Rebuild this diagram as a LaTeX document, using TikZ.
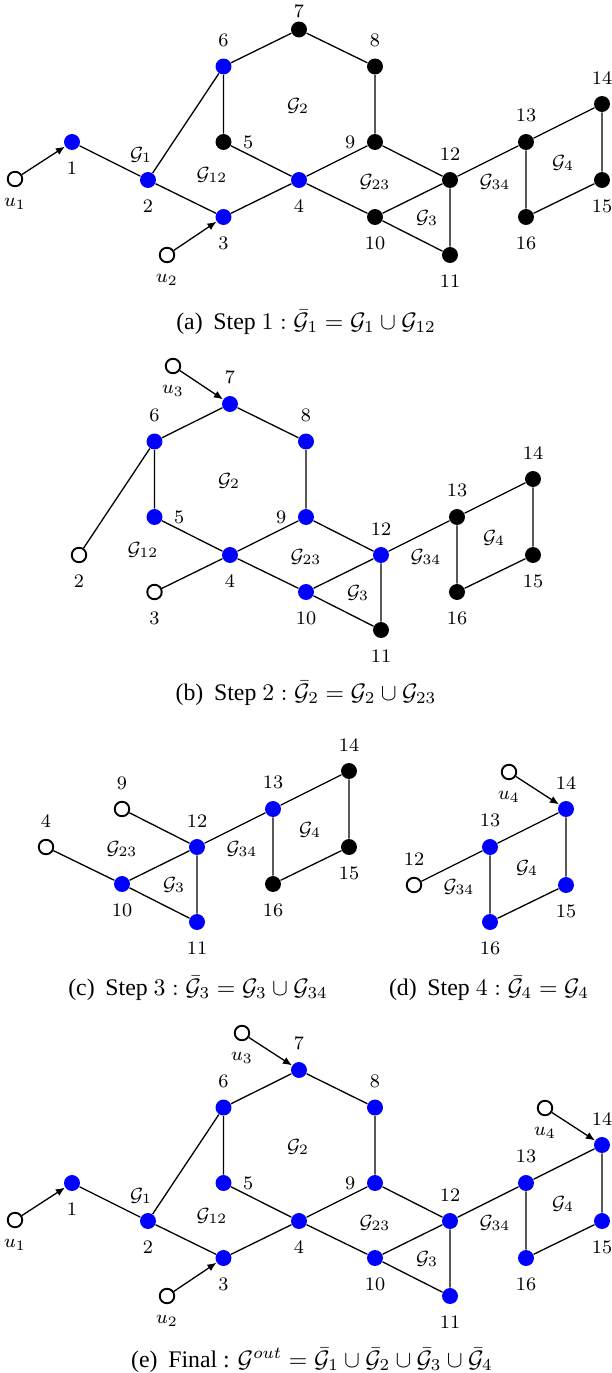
\documentclass[tikz,border=0pt]{standalone}
\usepackage{fontspec}
\newfontfamily\capfont{Liberation Serif}
\usetikzlibrary{arrows.meta}
\tikzset{
  bn/.style={circle,fill=blue,inner sep=0pt,minimum size=6.7pt},
  kn/.style={circle,fill=black,inner sep=0pt,minimum size=6.7pt},
  on/.style={circle,draw=black,line width=0.8pt,fill=white,inner sep=0pt,minimum size=6.1pt},
  lab/.style={font=\footnotesize},
  gl/.style={font=\footnotesize,inner sep=0pt},
  edge/.style={line width=0.55pt},
  arr/.style={line width=0.55pt,-{Latex[length=3.8pt,width=3.2pt]}},
  capt/.style={font=\capfont\normalsize,inner sep=0pt},
  every label/.style={lab},
  label distance=1.2pt
}
\newcommand\gn[6]{\node[#1,label={#2:{#3}}] (#4) at (#5,#6) {};}
\begin{document}
\begin{tikzpicture}[x=0.42pt,y=-0.42pt]
\useasboundingbox (0,0) rectangle (611,1373);
% ---------------- (a)
\begin{scope}
\gn{on}{below}{$u_1$}{au1}{15}{179}
\gn{on}{below}{$u_2$}{au2}{167}{255}
\gn{bn}{below}{1}{a1}{72}{142}
\gn{bn}{below}{2}{a2}{148}{180}
\gn{bn}{below}{3}{a3}{223.5}{217}
\gn{bn}{above}{6}{a6}{223.5}{66.5}
\gn{kn}{right}{5}{a5}{223.5}{142}
\gn{bn}{below}{4}{a4}{299}{180}
\gn{kn}{[label distance=-0.3pt,inner sep=1.5pt]above}{7}{a7}{299}{29.5}
\gn{kn}{above}{8}{a8}{375}{66.5}
\gn{kn}{left}{9}{a9}{375}{142}
\gn{kn}{below}{10}{a10}{375}{217}
\gn{kn}{above}{12}{a12}{450}{180}
\gn{kn}{below}{11}{a11}{450}{255}
\gn{kn}{above}{13}{a13}{526}{142}
\gn{kn}{above}{14}{a14}{602}{104}
\gn{kn}{below}{15}{a15}{602}{180}
\gn{kn}{below}{16}{a16}{526}{217}
\draw[arr] (au1) -- (a1);
\draw[arr] (au2) -- (a3);
\draw[edge] (a1)--(a2) (a2)--(a3) (a2)--(a6) (a6)--(a7) (a6)--(a5) (a5)--(a4)
  (a3)--(a4) (a7)--(a8) (a8)--(a9) (a9)--(a4) (a4)--(a10) (a9)--(a12)
  (a10)--(a12) (a10)--(a11) (a12)--(a11) (a12)--(a13) (a13)--(a14)
  (a14)--(a15) (a15)--(a16) (a16)--(a13);
\node[gl] (ag1) at (141,155) {$\mathcal{G}_1$};
\node[gl] (ag12) at (212,175) {$\mathcal{G}_{12}$};
\node[gl] (ag2) at (298,106) {$\mathcal{G}_2$};
\node[gl] (ag23) at (375,182) {$\mathcal{G}_{23}$};
\node[gl] (ag3) at (427,218) {$\mathcal{G}_3$};
\node[gl] (ag34) at (495,182) {$\mathcal{G}_{34}$};
\node[gl] (ag4) at (563,163) {$\mathcal{G}_4$};
\node[capt] (capa) at (306,322) {(a)\hspace{0.45em}Step $1 : \bar{\mathcal{G}}_1 = \mathcal{G}_1 \cup \mathcal{G}_{12}$};
\end{scope}
% ---------------- (b)
\begin{scope}[shift={(-69,375)}]
\gn{on}{below}{$u_3$}{bu3}{242}{-9}
\gn{on}{below}{2}{b2}{148}{180}
\gn{on}{below}{3}{b3}{223.5}{217}
\gn{bn}{above}{6}{b6}{223.5}{66.5}
\gn{bn}{right}{5}{b5}{223.5}{142}
\gn{bn}{below}{4}{b4}{299}{180}
\gn{bn}{above}{7}{b7}{299}{29}
\gn{bn}{above}{8}{b8}{375}{66.5}
\gn{bn}{left}{9}{b9}{375}{142}
\gn{bn}{below}{10}{b10}{375}{217}
\gn{bn}{above}{12}{b12}{450}{180}
\gn{kn}{below}{11}{b11}{450}{255}
\gn{kn}{above}{13}{b13}{526}{142}
\gn{kn}{above}{14}{b14}{602}{104}
\gn{kn}{below}{15}{b15}{602}{180}
\gn{kn}{below}{16}{b16}{526}{217}
\draw[arr] (bu3) -- (b7);
\draw[edge] (b2)--(b6) (b6)--(b7) (b6)--(b5) (b5)--(b4)
  (b3)--(b4) (b7)--(b8) (b8)--(b9) (b9)--(b4) (b4)--(b10) (b9)--(b12)
  (b10)--(b12) (b10)--(b11) (b12)--(b11) (b12)--(b13) (b13)--(b14)
  (b14)--(b15) (b15)--(b16) (b16)--(b13);
\node[gl] (bg12) at (212,175) {$\mathcal{G}_{12}$};
\node[gl] (bg2) at (298,106) {$\mathcal{G}_2$};
\node[gl] (bg23) at (375,182) {$\mathcal{G}_{23}$};
\node[gl] (bg3) at (427,218) {$\mathcal{G}_3$};
\node[gl] (bg34) at (495,182) {$\mathcal{G}_{34}$};
\node[gl] (bg4) at (563,163) {$\mathcal{G}_4$};
\node[capt] (capb) at (375,318) {(b)\hspace{0.45em}Step $2 : \bar{\mathcal{G}}_2 = \mathcal{G}_2 \cup \mathcal{G}_{23}$};
\end{scope}
% ---------------- (c)
\begin{scope}[shift={(-253,667)}]
\gn{on}{above}{4}{c4}{299}{180}
\gn{on}{above}{9}{c9}{375}{142}
\gn{bn}{below}{10}{c10}{375}{217}
\gn{bn}{above}{12}{c12}{450}{180}
\gn{bn}{below}{11}{c11}{450}{255}
\gn{bn}{above}{13}{c13}{526}{142}
\gn{kn}{above}{14}{c14}{602}{104}
\gn{kn}{below}{15}{c15}{602}{180}
\gn{kn}{below}{16}{c16}{526}{217}
\draw[edge] (c4)--(c10) (c9)--(c12)
  (c10)--(c12) (c10)--(c11) (c12)--(c11) (c12)--(c13) (c13)--(c14)
  (c14)--(c15) (c15)--(c16) (c16)--(c13);
\node[gl] (cg23) at (375,182) {$\mathcal{G}_{23}$};
\node[gl] (cg3) at (427,218) {$\mathcal{G}_3$};
\node[gl] (cg34) at (495,182) {$\mathcal{G}_{34}$};
\node[gl] (cg4) at (563,163) {$\mathcal{G}_4$};
\node[capt] (capc) at (451,321) {(c)\hspace{0.45em}Step $3 : \bar{\mathcal{G}}_3 = \mathcal{G}_3 \cup \mathcal{G}_{34}$};
\end{scope}
% ---------------- (d)
\begin{scope}[shift={(-36,705)}]
\gn{on}{below}{$u_4$}{du4}{545}{67}
\gn{on}{above}{12}{d12}{450}{180}
\gn{bn}{above}{13}{d13}{526}{142}
\gn{bn}{above}{14}{d14}{602}{104}
\gn{bn}{below}{15}{d15}{602}{180}
\gn{bn}{below}{16}{d16}{526}{217}
\draw[arr] (du4) -- (d14);
\draw[edge] (d12)--(d13) (d13)--(d14)
  (d14)--(d15) (d15)--(d16) (d16)--(d13);
\node[gl] (dg34) at (495,182) {$\mathcal{G}_{34}$};
\node[gl] (dg4) at (563,163) {$\mathcal{G}_4$};
\node[capt] (capd) at (525,283) {(d)\hspace{0.45em}Step $4 : \bar{\mathcal{G}}_4 = \mathcal{G}_4$};
\end{scope}
% ---------------- (e)
\begin{scope}[shift={(0,1041)}]
\gn{on}{below}{$u_1$}{eu1}{15}{179}
\gn{on}{below}{$u_2$}{eu2}{167}{255}
\gn{on}{below}{$u_3$}{eu3}{242}{-8}
\gn{on}{below}{$u_4$}{eu4}{545}{67}
\gn{bn}{below}{1}{e1}{72}{142}
\gn{bn}{below}{2}{e2}{148}{180}
\gn{bn}{below}{3}{e3}{223.5}{217}
\gn{bn}{above}{6}{e6}{223.5}{66.5}
\gn{bn}{right}{5}{e5}{223.5}{142}
\gn{bn}{below}{4}{e4}{299}{180}
\gn{bn}{above}{7}{e7}{299}{29}
\gn{bn}{above}{8}{e8}{375}{66.5}
\gn{bn}{left}{9}{e9}{375}{142}
\gn{bn}{below}{10}{e10}{375}{217}
\gn{bn}{above}{12}{e12}{450}{180}
\gn{bn}{below}{11}{e11}{450}{255}
\gn{bn}{above}{13}{e13}{526}{142}
\gn{bn}{above}{14}{e14}{602}{104}
\gn{bn}{below}{15}{e15}{602}{180}
\gn{bn}{below}{16}{e16}{526}{217}
\draw[arr] (eu1) -- (e1);
\draw[arr] (eu2) -- (e3);
\draw[arr] (eu3) -- (e7);
\draw[arr] (eu4) -- (e14);
\draw[edge] (e1)--(e2) (e2)--(e3) (e2)--(e6) (e6)--(e7) (e6)--(e5) (e5)--(e4)
  (e3)--(e4) (e7)--(e8) (e8)--(e9) (e9)--(e4) (e4)--(e10) (e9)--(e12)
  (e10)--(e12) (e10)--(e11) (e12)--(e11) (e12)--(e13) (e13)--(e14)
  (e14)--(e15) (e15)--(e16) (e16)--(e13);
\node[gl] (eg1) at (141,155) {$\mathcal{G}_1$};
\node[gl] (eg12) at (212,175) {$\mathcal{G}_{12}$};
\node[gl] (eg2) at (298,106) {$\mathcal{G}_2$};
\node[gl] (eg23) at (375,182) {$\mathcal{G}_{23}$};
\node[gl] (eg3) at (427,218) {$\mathcal{G}_3$};
\node[gl] (eg34) at (495,182) {$\mathcal{G}_{34}$};
\node[gl] (eg4) at (563,163) {$\mathcal{G}_4$};
\node[capt] (cape) at (312,319) {(e)\hspace{0.45em}Final : $\mathcal{G}^{out} = \bar{\mathcal{G}}_1 \cup \bar{\mathcal{G}}_2 \cup \bar{\mathcal{G}}_3 \cup \bar{\mathcal{G}}_4$};
\end{scope}
\end{tikzpicture}
\end{document}
